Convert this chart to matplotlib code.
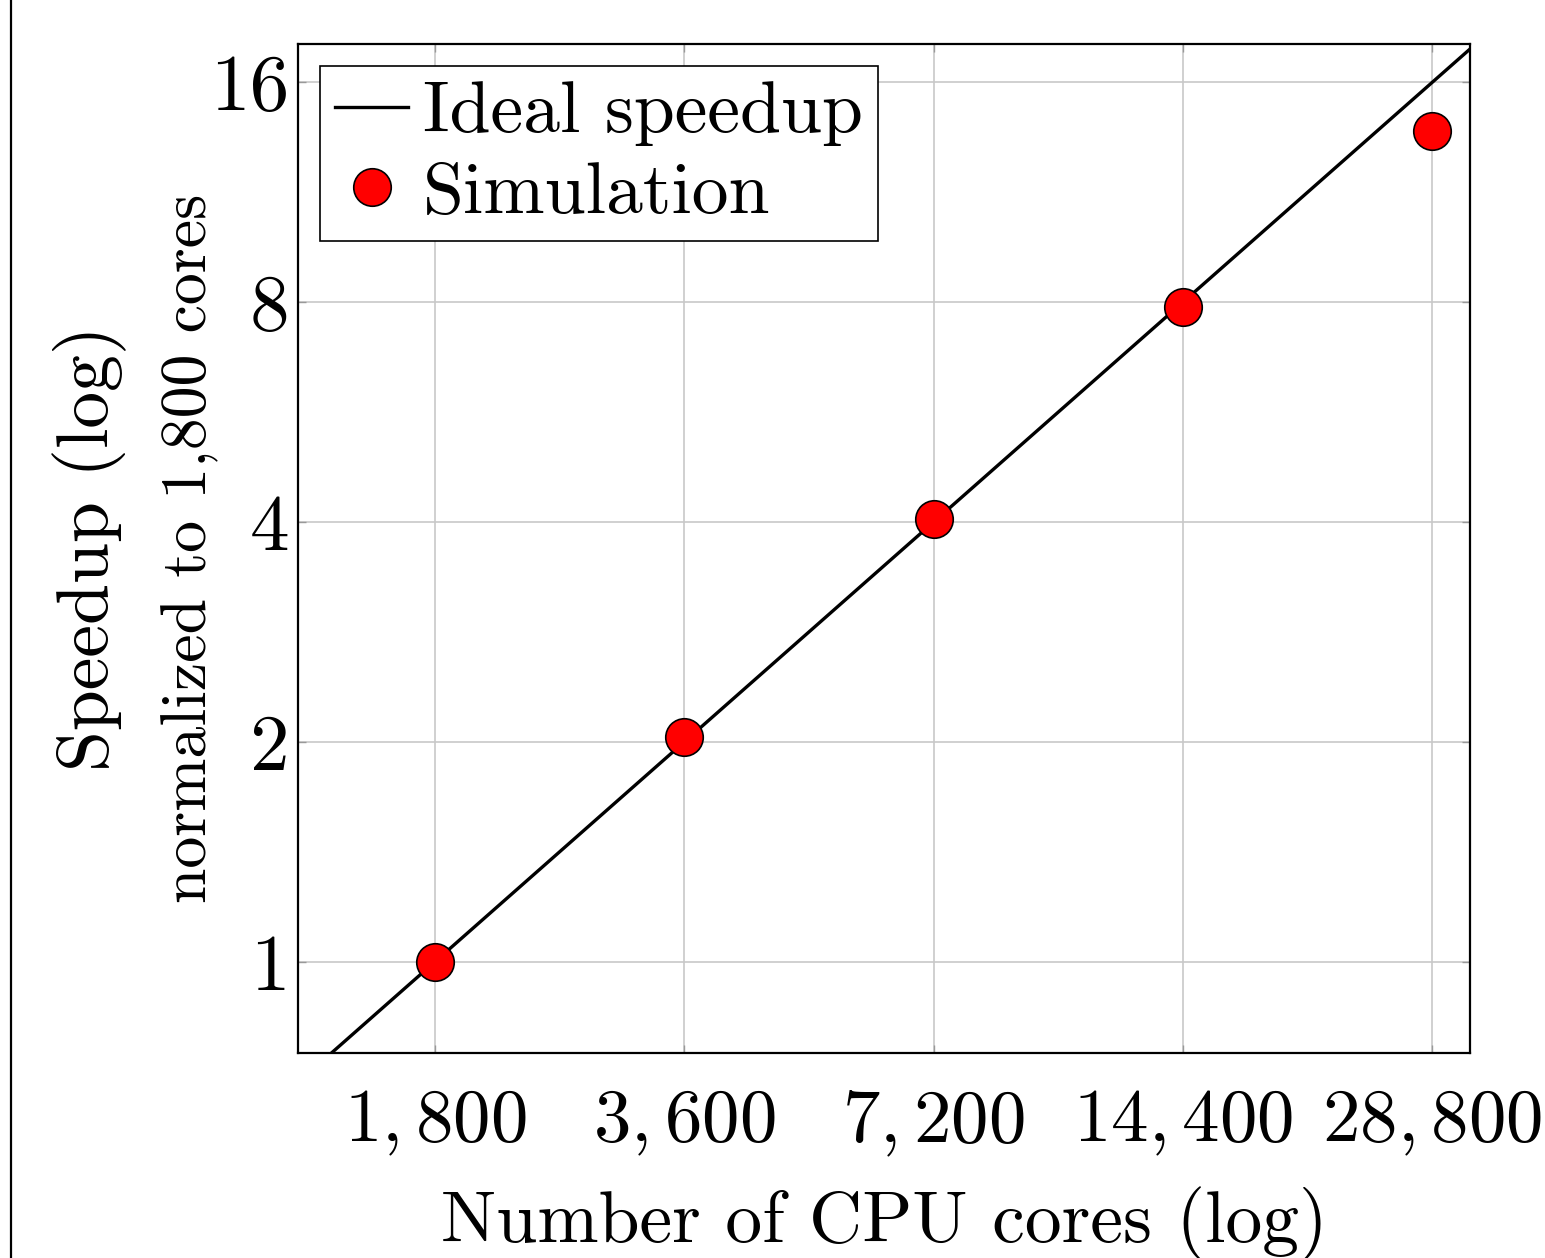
import matplotlib
matplotlib.use("Agg")
import matplotlib.pyplot as plt
from matplotlib.lines import Line2D
from matplotlib.ticker import FixedLocator, FixedFormatter, NullLocator

plt.rcParams["font.family"] = "serif"
plt.rcParams["font.serif"] = ["cmr10"]
plt.rcParams["mathtext.fontset"] = "cm"
plt.rcParams["axes.formatter.use_mathtext"] = True

# data
cores = [1800, 3600, 7200, 14400, 28800]
speedup = [1.0, 2.03, 4.04, 7.87, 13.7]
ideal_x = [1230, 32000]
ideal_y = [x / 1800 for x in ideal_x]
x_ticklabels = [r"$1,800$", r"$3,600$", r"$7,200$", r"$14,400$", r"$28,800$"]
y_ticks = [1, 2, 4, 8, 16]

fig = plt.figure(figsize=(15.45, 12.58), dpi=100)
ax = fig.add_axes([0.1929, 0.1630, 0.7586, 0.8020])

ax.set_xscale("log")
ax.set_yscale("log")
ax.set_xlim(1230, 31970)
ax.set_ylim(0.75, 18.04)

ax.grid(True, color="#c8c8c8", linewidth=1.2, zorder=0)
ax.plot(ideal_x, ideal_y, color="black", linewidth=2.4, label="Ideal speedup", zorder=3)
ax.plot(cores, speedup, linestyle="none", marker="o", markersize=27,
        markerfacecolor="red", markeredgecolor="black", markeredgewidth=1.2,
        label="Simulation", zorder=4)

ax.xaxis.set_major_locator(FixedLocator(cores))
ax.xaxis.set_major_formatter(FixedFormatter(x_ticklabels))
ax.xaxis.set_minor_locator(NullLocator())
ax.yaxis.set_major_locator(FixedLocator(y_ticks))
ax.yaxis.set_major_formatter(FixedFormatter([str(v) for v in y_ticks]))
ax.yaxis.set_minor_locator(NullLocator())

ax.tick_params(axis="both", which="major", direction="in", length=6, width=1,
               color="#999999", top=True, right=True)
ax.tick_params(axis="x", pad=26, labelsize=54)
ax.tick_params(axis="y", pad=6, labelsize=57)

for s in ax.spines.values():
    s.set_linewidth(1.6)

ax.set_xlabel("Number of CPU cores (log)", fontsize=53, labelpad=20)
ax.text(-0.1775, 0.5, "Speedup (log)", rotation=90, fontsize=53,
        ha="center", va="center", transform=ax.transAxes)
ax.text(-0.092, 0.5, "normalized to 1,800 cores", rotation=90, fontsize=46,
        ha="center", va="center", transform=ax.transAxes)

leg = ax.legend(loc="upper left", fontsize=53, frameon=True, fancybox=False,
                borderaxespad=0.3, borderpad=0.2, labelspacing=0.2,
                handlelength=1.0, handletextpad=0.2, framealpha=1)
leg.get_frame().set_edgecolor("black")
leg.get_frame().set_linewidth(1.2)

# left page border
fig.add_artist(Line2D([0.0068, 0.0068], [0, 1], color="black", linewidth=1.6,
                      transform=fig.transFigure))

fig.savefig("out.png", dpi=100)
